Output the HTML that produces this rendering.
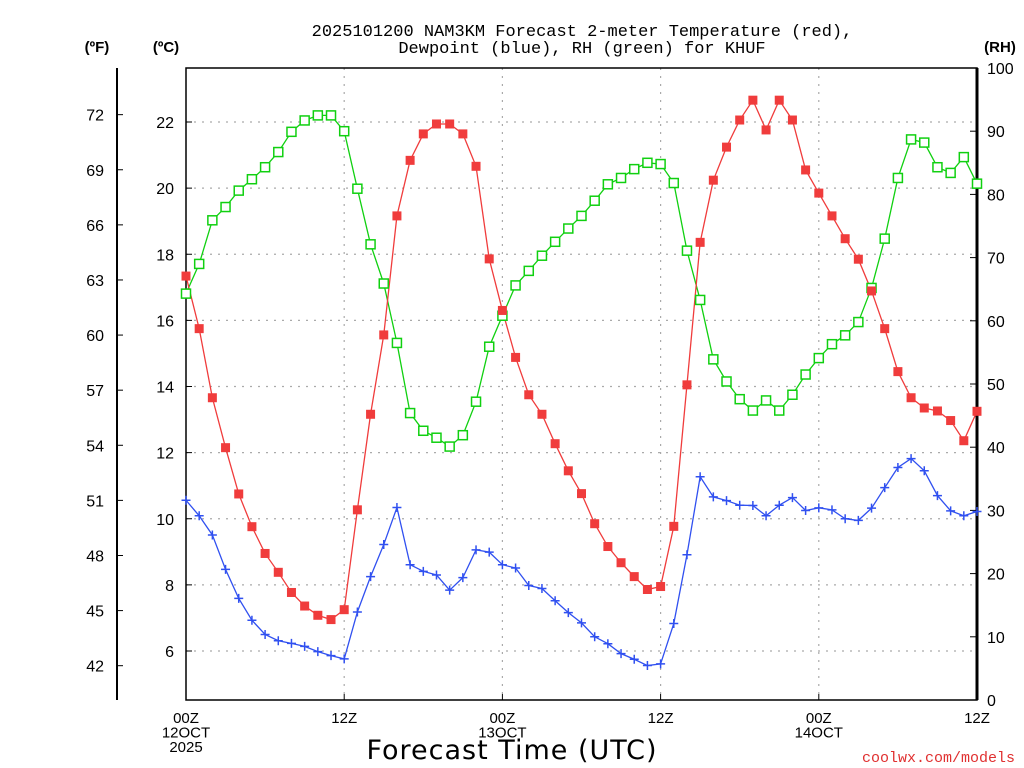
<!DOCTYPE html>
<html><head><meta charset="utf-8"><style>
html,body{margin:0;padding:0;background:#fff;}
svg{display:block;font-family:"Liberation Sans",sans-serif;}
</style></head><body>
<svg id="chart" width="1024" height="768" viewBox="0 0 1024 768">
<g id="grid"></g>
<g id="axes"></g>
<g id="series"></g>
<text x="582" y="36" text-anchor="middle" font-size="17" font-family="Liberation Mono, monospace">2025101200 NAM3KM Forecast 2-meter Temperature (red),</text>
<text x="582" y="53" text-anchor="middle" font-size="17" font-family="Liberation Mono, monospace">Dewpoint (blue), RH (green) for KHUF</text>
<text x="97" y="52" text-anchor="middle" font-size="15" font-weight="bold">(ºF)</text>
<text x="166" y="52" text-anchor="middle" font-size="15" font-weight="bold">(ºC)</text>
<text x="1000" y="52" text-anchor="middle" font-size="15" font-weight="bold">(RH)</text>
<text x="512" y="759" text-anchor="middle" font-size="27" font-family="DejaVu Sans, sans-serif" letter-spacing="1">Forecast Time (UTC)</text>
<text x="1015" y="762" text-anchor="end" font-size="15" fill="#e03030" font-family="Liberation Mono, monospace">coolwx.com/models</text>
</svg>
<script>
const hours = Array.from({length:61},(_,i)=>i);
const tempC = [17.34,15.75,13.66,12.15,10.75,9.76,8.95,8.38,7.77,7.36,7.08,6.95,7.25,10.27,13.16,15.56,19.16,20.84,21.64,21.94,21.94,21.64,20.66,17.86,16.3,14.88,13.75,13.16,12.27,11.45,10.76,9.85,9.16,8.67,8.25,7.86,7.95,9.77,14.05,18.36,20.24,21.24,22.06,22.66,21.76,22.66,22.06,20.55,19.85,19.16,18.47,17.85,16.89,15.75,14.45,13.66,13.35,13.26,12.97,12.36,13.25];
const dewC = [10.56,10.09,9.51,8.47,7.59,6.93,6.5,6.31,6.23,6.14,5.98,5.86,5.76,7.18,8.25,9.22,10.34,8.61,8.41,8.3,7.84,8.22,9.06,8.99,8.61,8.51,7.98,7.89,7.52,7.16,6.85,6.43,6.22,5.92,5.75,5.56,5.61,6.83,8.91,11.27,10.66,10.55,10.41,10.4,10.09,10.41,10.64,10.25,10.33,10.27,10.0,9.95,10.32,10.94,11.55,11.82,11.45,10.7,10.24,10.09,10.22];
const rhPct = [64.3,69.0,75.9,78.0,80.6,82.4,84.3,86.7,89.9,91.7,92.5,92.5,90.0,80.9,72.1,65.9,56.5,45.4,42.6,41.5,40.1,41.9,47.2,55.9,60.8,65.6,67.9,70.3,72.5,74.6,76.6,79.0,81.6,82.6,84.0,85.0,84.8,81.8,71.1,63.3,53.9,50.4,47.6,45.8,47.4,45.8,48.3,51.5,54.1,56.3,57.7,59.8,65.2,73.0,82.6,88.7,88.2,84.3,83.4,85.9,81.7];
const cTicks = [6,8,10,12,14,16,18,20,22];
const fTicks = [42,45,48,51,54,57,60,63,66,69,72];
const rhTicks = [0,10,20,30,40,50,60,70,80,90,100];
const xTickHours = [0,12,24,36,48,60];
const xTickLabels = [["00Z","12OCT","2025"],["12Z"],["00Z","13OCT"],["12Z"],["00Z","14OCT"],["12Z"]];

const L=186,R=977,T=68,B=700;
const xS=h=>L+(R-L)*h/60;
const yC=c=>122+(22-c)*(651-122)/16;
const yF=f=>yC((f-32)*5/9);
const yR=r=>B-(B-T)*r/100;
const NS="http://www.w3.org/2000/svg";
function mk(tag,attrs,parent){const e=document.createElementNS(NS,tag);for(const k in attrs)e.setAttribute(k,attrs[k]);parent.appendChild(e);return e;}
const grid=document.getElementById('grid'),axes=document.getElementById('axes'),ser=document.getElementById('series');

cTicks.forEach(c=>{
  const g=mk('line',{x1:L,x2:R,y1:yC(c),y2:yC(c),stroke:'#aaa','stroke-dasharray':'2,6','stroke-width':1.2},grid);
  
  
  const t=mk('line',{x1:L,x2:L+6,y1:yC(c),y2:yC(c),stroke:'#000'},axes);
  
  
  const lb=mk('text',{x:174,y:yC(c)+6,'text-anchor':'end','font-size':16},axes);
  lb.textContent=c;
  
  
});
xTickHours.forEach((h,i)=>{
  if(h>0&&h<60){const g=mk('line',{x1:xS(h),x2:xS(h),y1:T,y2:B,stroke:'#aaa','stroke-dasharray':'2,6','stroke-width':1.2},grid);
  
  }
  const t=mk('line',{x1:xS(h),x2:xS(h),y1:B,y2:B-6,stroke:'#000'},axes);
  
  
  xTickLabels[i].forEach((s,j)=>{
    const lb=mk('text',{x:xS(h),y:723+j*14.5,'text-anchor':'middle','font-size':15},axes);
    lb.textContent=s;
    
    
  });
});
fTicks.forEach(f=>{
  const t=mk('line',{x1:117,x2:123,y1:yF(f),y2:yF(f),stroke:'#000'},axes);
  
  
  const lb=mk('text',{x:104,y:yF(f)+6,'text-anchor':'end','font-size':16},axes);
  lb.textContent=f;
  
  
});
rhTicks.forEach(r=>{
  const t=mk('line',{x1:R-7,x2:R,y1:yR(r),y2:yR(r),stroke:'#000'},axes);
  
  
  const lb=mk('text',{x:987,y:yR(r)+6,'text-anchor':'start','font-size':16},axes);
  lb.textContent=r;
  
  
});
const fr=mk('rect',{x:L,y:T,width:R-L,height:B-T,fill:'none',stroke:'#000','stroke-width':1.5},axes);


const ra=mk('line',{x1:R,x2:R,y1:T,y2:B,stroke:'#000','stroke-width':3},axes);


const fa=mk('line',{x1:117,x2:117,y1:T,y2:B,stroke:'#000','stroke-width':2},axes);



function line(vals,yf,color,name){
  const p=mk('polyline',{points:vals.map((v,i)=>xS(hours[i])+','+yf(v)).join(' '),fill:'none',stroke:color,'stroke-width':1.3},ser);
  
  
}
line(rhPct,yR,'#10d010','rh');
line(tempC,yC,'#f03c3c','temperature');
line(dewC,yC,'#3050f0','dewpoint');
rhPct.forEach((v,i)=>{
  const m=mk('rect',{x:xS(hours[i])-4.5,y:yR(v)-4.5,width:9,height:9,fill:'#fff',stroke:'#10d010','stroke-width':1.5},ser);
  
  
});
tempC.forEach((v,i)=>{
  const m=mk('rect',{x:xS(hours[i])-4.5,y:yC(v)-4.5,width:9,height:9,fill:'#f03c3c'},ser);
  
  
});
dewC.forEach((v,i)=>{
  const x=xS(hours[i]),y=yC(v);
  const m=mk('path',{d:`M${x-4.5},${y}H${x+4.5}M${x},${y-4.5}V${y+4.5}`,stroke:'#3050f0','stroke-width':1.5},ser);
  
  
});
</script>
</body></html>
